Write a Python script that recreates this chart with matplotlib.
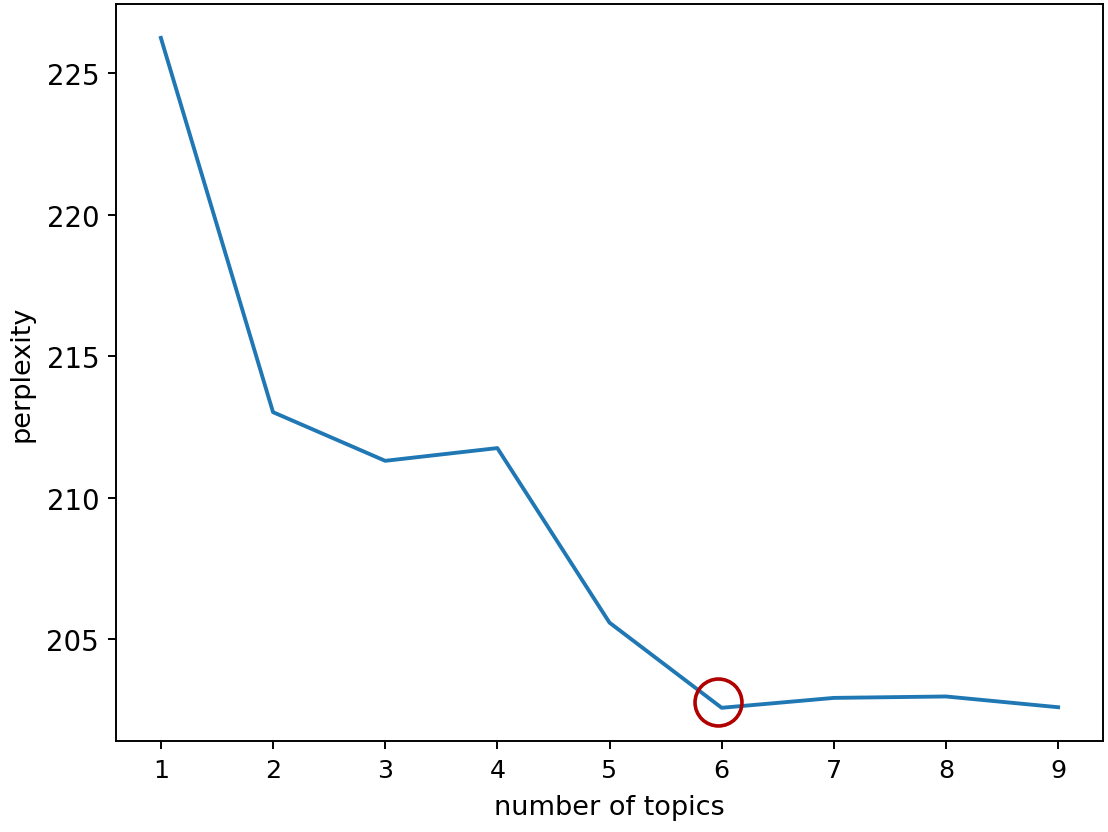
import numpy as np
import matplotlib
matplotlib.use('Agg')
import matplotlib.pyplot as plt

# perplexity per number of topics
topics = [1, 2, 3, 4, 5, 6, 7, 8, 9]
perplexity = [226.25, 213.02, 211.30, 211.75, 205.58, 202.57, 202.92, 202.97, 202.59]
best_k = 6

fig = plt.figure(figsize=(6.4, 4.807), dpi=173.28)
ax = fig.add_axes([0.1046, 0.1089, 0.89, 0.8847])
ax.plot(topics, perplexity, linewidth=1.6)
ax.set_xlabel('number of topics', fontsize=11.3, labelpad=5)
ax.set_ylabel('perplexity', fontsize=11.3, labelpad=5)
ax.tick_params(axis='x', labelsize=10.5)
ax.tick_params(axis='y', labelsize=11.5)

# mark the chosen number of topics
i = topics.index(best_k)
ax.plot(best_k - 0.03, perplexity[i] + 0.22, 'o', markersize=19.5, fillstyle='none',
        markeredgecolor='#b00000', markeredgewidth=1.5)

fig.savefig('out.png', dpi=173.28)
